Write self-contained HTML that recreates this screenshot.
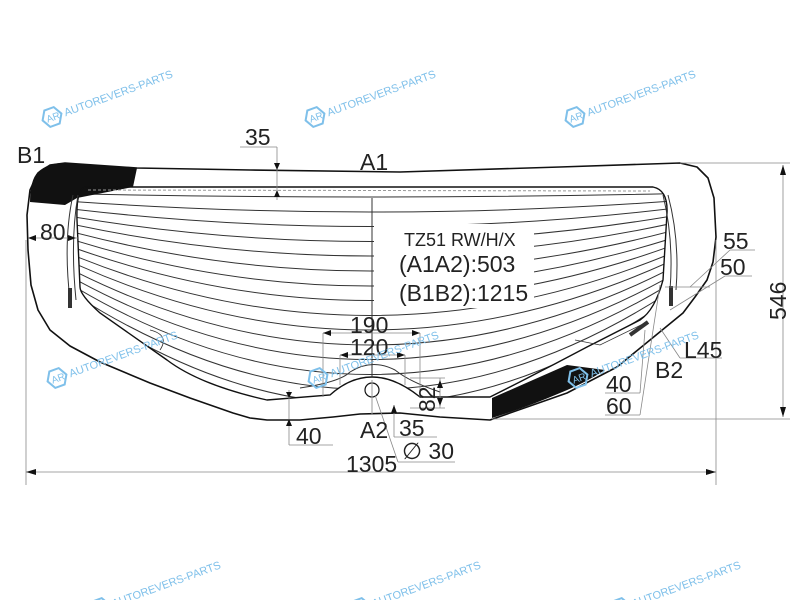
<!DOCTYPE html>
<html><head><meta charset="utf-8"><style>
html,body{margin:0;padding:0;background:#fff;width:800px;height:600px;overflow:hidden}
svg{display:block}
text{font-family:"Liberation Sans",sans-serif;fill:#222}
.wm text{fill:#7fc0ea;font-size:11px}
</style></head><body>
<svg width="800" height="600" viewBox="0 0 800 600" xmlns="http://www.w3.org/2000/svg">
<defs>
<clipPath id="inner">
<path d="M85 187 L653 187 Q668 190 667 213 L663 280 Q655 310 640 320 L587 347 L490 397 L420 397 Q395 377 372 377 Q350 377 330 395 L267 400 Q200 385 167 360 L100 313 Q80 295 80 287 L77 220 Q76 190 85 187 Z"/>
</clipPath>
<g id="logo"><polygon points="-10,0 -5,-8.7 5,-8.7 10,0 5,8.7 -5,8.7" fill="none" stroke="#7fc0ea" stroke-width="2"/><text x="-6" y="4" font-size="10" style="fill:#7fc0ea">AR</text></g>
</defs>

<g clip-path="url(#inner)" stroke="#333" stroke-width="1" fill="none">
<path d="M40 193 Q370 201 700 193"/>
<path d="M40 199 Q370 225 700 199"/>
<path d="M40 205 Q370 248 700 205"/>
<path d="M40 211 Q370 272 700 211"/>
<path d="M40 217 Q370 295 700 217"/>
<path d="M40 223 Q370 319 700 223"/>
<path d="M40 229 Q370 343 700 229"/>
<path d="M40 235 Q370 366 700 235"/>
<path d="M40 241 Q370 390 700 241"/>
<path d="M40 247 Q370 413 700 247"/>
<path d="M40 253 Q370 437 700 253"/>
<path d="M40 259 Q370 460 700 259"/>
<path d="M40 265 Q370 484 700 265"/>
<path d="M40 271 Q370 508 700 271"/>
<path d="M40 277 Q370 531 700 277"/>
<path d="M40 283 Q370 555 700 283"/>
<path d="M40 289 Q370 578 700 289"/>
</g>
<rect x="374" y="224" width="160" height="84" fill="#fff"/>

<polygon points="65,163 137,168 250,170 400,172 560,167 680,163 697,167 708,178 714,198 716,237 713,262 707,280 695,297 683,313 650,340 617,367 590,381 567,393 530,406 490,420 440,417 400,413 360,414 333,417 300,420 267,420 250,418 233,413 190,398 150,383 100,362 70,346 50,330 38,310 31,285 28,250 27,215 30,190 38,173 50,165" fill="none" stroke="#111" stroke-width="1.6" stroke-linejoin="round"/>
<path d="M63 163 L137 168 L133 187 L77 198 L65 205 L30 202 Q30 180 38 172 Q48 163 63 163 Z" fill="#111"/>
<path d="M492 398 L567 365 L605 370 Q585 383 560 393 Q525 408 492 418 Z" fill="#111"/>

<path d="M85 187 L653 187 Q668 190 667 213 L663 280 Q655 310 640 320 L587 347 Q540 372 490 397 L420 397 Q395 377 372 377 Q350 377 330 395 L267 400 Q200 385 167 360 L100 313 Q80 295 80 287 L77 220 Q76 190 85 187 Z" fill="none" stroke="#111" stroke-width="1.4"/>
<path d="M88 190 L650 191" stroke="#999" stroke-dasharray="3,2" fill="none"/>
<path d="M300 388 Q340 382 350 372 Q372 358 395 370 Q410 382 440 392" fill="none" stroke="#333" stroke-width="1"/>
<path d="M160 350 Q170 335 150 330" fill="none" stroke="#333" stroke-width="0.8"/>
<path d="M73 195 Q63 240 70 300" fill="none" stroke="#333"/>
<path d="M78 195 Q70 240 76 300" fill="none" stroke="#333"/>
<rect x="68" y="288" width="4" height="20" fill="#333"/>
<path d="M668 195 Q680 240 676 290" fill="none" stroke="#333"/>
<path d="M663 195 Q674 240 670 290" fill="none" stroke="#333"/>
<rect x="669" y="286" width="4" height="20" fill="#333"/>
<path d="M630 335 L648 322" stroke="#333" stroke-width="4"/>
<path d="M575 340 L600 345 L645 323" fill="none" stroke="#333" stroke-width="0.8"/>

<circle cx="372" cy="390" r="7" fill="none" stroke="#111" stroke-width="1.2"/>
<line x1="372" y1="198" x2="372" y2="377" stroke="#333"/>
<line x1="372" y1="380" x2="372" y2="415" stroke="#999"/>

<g stroke="#888" stroke-width="0.8" fill="none">
<line x1="240" y1="147" x2="277" y2="147"/><line x1="277" y1="147" x2="277" y2="200"/>
<line x1="28" y1="238" x2="78" y2="238"/>
<line x1="26" y1="240" x2="26" y2="485"/><line x1="716" y1="240" x2="716" y2="485"/>
<line x1="26" y1="472" x2="716" y2="472"/>
<line x1="323" y1="333" x2="323" y2="397"/><line x1="420" y1="333" x2="420" y2="397"/>
<line x1="323" y1="333" x2="420" y2="333"/>
<line x1="340" y1="355" x2="340" y2="385"/><line x1="405" y1="355" x2="405" y2="385"/>
<line x1="340" y1="355" x2="405" y2="355"/>
<line x1="410" y1="378" x2="445" y2="378"/><line x1="410" y1="408" x2="445" y2="408"/>
<line x1="440" y1="378" x2="440" y2="408"/>
<line x1="289" y1="390" x2="289" y2="445"/><line x1="289" y1="445" x2="333" y2="445"/>
<line x1="394" y1="405" x2="394" y2="437"/><line x1="394" y1="437" x2="437" y2="437"/>
<line x1="375" y1="395" x2="398" y2="462"/><line x1="398" y1="462" x2="455" y2="462"/>
<line x1="680" y1="163" x2="790" y2="163"/><line x1="492" y1="419" x2="790" y2="419"/>
<line x1="783" y1="165" x2="783" y2="417"/>
<line x1="665" y1="287" x2="710" y2="287"/>
<line x1="690" y1="287" x2="730" y2="250"/><line x1="730" y1="250" x2="755" y2="250"/>
<line x1="670" y1="310" x2="725" y2="276"/><line x1="725" y1="276" x2="752" y2="276"/>
<line x1="660" y1="328" x2="680" y2="358"/><line x1="680" y1="358" x2="722" y2="358"/>
<line x1="660" y1="285" x2="640" y2="415"/><line x1="605" y1="415" x2="640" y2="415"/>
<line x1="645" y1="330" x2="640" y2="393"/><line x1="605" y1="393" x2="640" y2="393"/>
</g>
<g fill="#111">
<polygon points="277,170 274,163 280,163"/><polygon points="277,190 274,197 280,197"/>
<polygon points="28,238 36,235 36,241"/><polygon points="76,238 68,235 68,241"/>
<polygon points="26,472 36,469 36,475"/><polygon points="716,472 706,469 706,475"/>
<polygon points="323,333 331,330 331,336"/><polygon points="420,333 412,330 412,336"/>
<polygon points="340,355 348,352 348,358"/><polygon points="405,355 397,352 397,358"/>
<polygon points="440,380 437,388 443,388"/><polygon points="440,406 437,398 443,398"/>
<polygon points="289,398 286,392 292,392"/><polygon points="289,419 286,426 292,426"/>
<polygon points="394,405 391,413 397,413"/>
<polygon points="783,165 780,175 786,175"/><polygon points="783,417 780,407 786,407"/>
</g>

<g font-size="23">
<text x="245" y="145">35</text>
<text x="360" y="170">A1</text>
<text x="17" y="163">B1</text>
<text x="40" y="240">80</text>
<text x="404" y="246" font-size="18">TZ51 RW/H/X</text>
<text x="399" y="272">(A1A2):503</text>
<text x="399" y="301">(B1B2):1215</text>
<text x="350" y="333">190</text>
<text x="350" y="355">120</text>
<text x="296" y="444">40</text>
<text x="360" y="438">A2</text>
<text x="399" y="436">35</text>
<text x="402" y="459">∅ 30</text>
<text x="346" y="472">1305</text>
<text x="723" y="249">55</text>
<text x="720" y="275">50</text>
<text x="684" y="358">L45</text>
<text x="655" y="378">B2</text>
<text x="606" y="392">40</text>
<text x="606" y="414">60</text>
<text transform="translate(786,320) rotate(-90)">546</text>
<text transform="translate(435,412) rotate(-90)">82</text>
</g>

<g class="wm">
<g transform="translate(52,117) rotate(-20)"><use href="#logo"/><text x="13" y="4">AUTOREVERS-PARTS</text></g>
<g transform="translate(315,117) rotate(-20)"><use href="#logo"/><text x="13" y="4">AUTOREVERS-PARTS</text></g>
<g transform="translate(575,117) rotate(-20)"><use href="#logo"/><text x="13" y="4">AUTOREVERS-PARTS</text></g>
<g transform="translate(57,378) rotate(-20)"><use href="#logo"/><text x="13" y="4">AUTOREVERS-PARTS</text></g>
<g transform="translate(318,378) rotate(-20)"><use href="#logo"/><text x="13" y="4">AUTOREVERS-PARTS</text></g>
<g transform="translate(578,378) rotate(-20)"><use href="#logo"/><text x="13" y="4">AUTOREVERS-PARTS</text></g>
<g transform="translate(100,608) rotate(-20)"><use href="#logo"/><text x="13" y="4">AUTOREVERS-PARTS</text></g>
<g transform="translate(360,608) rotate(-20)"><use href="#logo"/><text x="13" y="4">AUTOREVERS-PARTS</text></g>
<g transform="translate(620,608) rotate(-20)"><use href="#logo"/><text x="13" y="4">AUTOREVERS-PARTS</text></g>
</g>
</svg>
</body></html>
